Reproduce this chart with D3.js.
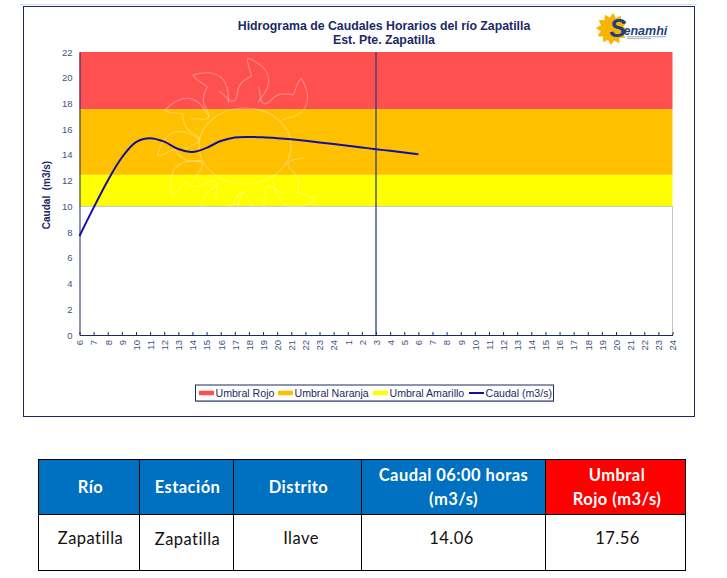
<!doctype html>
<html><head>
<meta charset="utf-8">
<script src="https://d3js.org/d3.v7.min.js"></script>
<style>
html, body { margin: 0; padding: 0; background: #fff; }
svg { display: block; }
text { font-family: "Liberation Sans", Arial, sans-serif; }
.tabla text { font-family: Lato, "Open Sans", sans-serif; letter-spacing: 0.45px; }
</style>
</head><body lang="es">
<svg id="chart" width="727" height="578"></svg>
<script>
// data
var hourLabels = ["6","7","8","9","10","11","12","13","14","15","16","17","18","19","20","21","22","23","24",
  "1","2","3","4","5","6","7","8","9","10","11","12","13","14","15","16","17","18","19","20","21","22","23","24"];
var caudal = [7.7,9.9,12.0,13.8,15.0,15.3,15.03,14.46,14.23,14.55,15.08,15.36,15.4,15.37,15.3,15.21,15.1,
  14.97,14.85,14.72,14.58,14.44,14.32,14.19,14.06];
var yTicks = [0,2,4,6,8,10,12,14,16,18,20,22];
var bandNames = ["Umbral Rojo","Umbral Naranja","Umbral Amarillo"];
var bandFrom = [17.56,12.45,10];
var bandTo = [22,17.56,12.45];
var bandColors = ["#ff5050","#ffc000","#ffff00"];
var nowIndex = 21; // vertical marker at 3
var tableHead = ["Río","Estación","Distrito",["Caudal 06:00 horas","(m3/s)"],["Umbral","Rojo (m3/s)"]];
var tableRow = ["Zapatilla","Zapatilla","Ilave","14.06","17.56"];
var tableCols = [38.5,139.5,233.5,361.5,545.5,685.5];
var headColors = ["#0070c0","#0070c0","#0070c0","#0070c0","#ff0000"];
var headCenters = [90.5,187.5,298.5,453.5,617];
var rowCenters = [90.5,187.5,301,451.5,617.5];
var sunTips = [88,50,126,156,186,214,250,282,322];

var navy = "#1b2a63", labelColor = "#3f5480";
var svg = d3.select("#chart");

// outer frame
svg.append("line").attr("x1",20).attr("x2",697).attr("y1",4.5).attr("y2",4.5).attr("stroke","#d5d9e8");
svg.append("rect").attr("x",23.5).attr("y",6.5).attr("width",671).attr("height",410)
  .attr("fill","#fff").attr("stroke",navy).attr("stroke-width",1);

var x = d3.scaleLinear().domain([0, hourLabels.length-1]).range([79.5, 672.5]);
var y = d3.scaleLinear().domain([0, 22]).range([335, 52]);

// threshold bands
svg.selectAll("rect.band").data(bandNames).enter().append("rect")
  .attr("class","band")
  .attr("x", x(0))
  .attr("width", x.range()[1]-x.range()[0])
  .attr("y", function(d,i){ return y(bandTo[i]); })
  .attr("height", function(d,i){ return y(bandFrom[i])-y(bandTo[i]); })
  .attr("fill", function(d,i){ return bandColors[i]; });

// plot edge on the white part
svg.append("path")
  .attr("d","M"+x(0)+","+y(10)+"H"+x.range()[1]+"V"+y(0))
  .attr("fill","none").attr("stroke","#c4c4c4");

// watermark sun
var wm = svg.append("g").attr("transform","translate(245,146)")
  .attr("fill","none").attr("stroke","#fff").attr("stroke-opacity",0.3).attr("stroke-width",1.2);
wm.append("ellipse").attr("rx",46).attr("ry",38);
wm.selectAll("path").data(sunTips).enter().append("path")
  .attr("transform", function(d){ return "rotate("+(90-d)+")"; })
  .attr("d","M-28,-54C-20,-50 -18,-42 -12,-45C-6,-50 -16,-60 4,-70C3,-77 -2,-82 0,-88C16,-82 25,-72 20,-58C17,-50 13,-48 12,-44");

// axes
var xAxis = d3.axisBottom(x)
  .tickValues(d3.range(hourLabels.length))
  .tickFormat(function(i){ return hourLabels[i]; })
  .tickSizeInner(-3).tickSizeOuter(0);
var gx = svg.append("g").attr("transform","translate(0,335)").call(xAxis);
gx.selectAll("text")
  .attr("transform","rotate(-90)")
  .attr("x",-5).attr("y",0).attr("dy","0.35em")
  .attr("text-anchor","end")
  .attr("font-size",9.5).attr("fill",labelColor);

var yAxis = d3.axisLeft(y).tickValues(yTicks).tickSize(0).tickPadding(7);
var gy = svg.append("g").attr("transform","translate(79.5,0)").call(yAxis);
gy.selectAll("text").attr("font-size",9.5).attr("fill",labelColor);
svg.selectAll(".domain").attr("stroke",navy);
gx.selectAll("line").attr("stroke",navy);

// marker and flow line
svg.append("line")
  .attr("x1",x(nowIndex)).attr("x2",x(nowIndex))
  .attr("y1",y(22)).attr("y2",y(0))
  .attr("stroke","#2f3f78").attr("stroke-width",1.3);

var line = d3.line()
  .x(function(d,i){ return x(i); })
  .y(function(d){ return y(d); })
  .curve(d3.curveCatmullRom);
svg.append("path").datum(caudal)
  .attr("d",line)
  .attr("fill","none").attr("stroke","#1010a8").attr("stroke-width",2);

// titles
svg.append("text").attr("x",384).attr("y",30).attr("text-anchor","middle")
  .attr("font-size",12.3).attr("font-weight","bold").attr("fill",navy)
  .text("Hidrograma de Caudales Horarios del río Zapatilla");
svg.append("text").attr("x",384).attr("y",44).attr("text-anchor","middle")
  .attr("font-size",12.3).attr("font-weight","bold").attr("fill",navy)
  .text("Est. Pte. Zapatilla");
svg.append("text").attr("transform","translate(50,195) rotate(-90)").attr("text-anchor","middle")
  .attr("font-size",10).attr("font-weight","bold").attr("fill",navy).attr("xml:space","preserve")
  .text("Caudal  (m3/s)");

// legend
svg.append("rect").attr("x",196).attr("y",386).attr("width",358).attr("height",16).attr("fill","#b8b8c0");
svg.append("rect").attr("x",195.5).attr("y",385).attr("width",358).attr("height",16)
  .attr("fill","#fff").attr("stroke",navy);
var legendX = [199,278,373,469];
var legendNames = bandNames.concat(["Caudal (m3/s)"]);
var legendColors = bandColors.concat(["#1010a8"]);
var leg = svg.selectAll("g.leg").data(legendNames).enter().append("g")
  .attr("class","leg")
  .attr("transform", function(d,i){ return "translate("+legendX[i]+",393)"; });
leg.append("line").attr("x1",0).attr("x2",15)
  .attr("stroke", function(d,i){ return legendColors[i]; })
  .attr("stroke-width", function(d,i){ return i==3 ? 2 : 4.5; });
leg.append("text").attr("x",16.5).attr("dy","0.35em")
  .attr("font-size",10.6).attr("fill",navy)
  .text(function(d){ return d; });

// logo
var logo = svg.append("g").attr("transform","translate(612,29)");
logo.selectAll("path").data(d3.range(12)).enter().append("path")
  .attr("transform", function(d){ return "rotate("+d*30+")"; })
  .attr("d","M-4,-9Q-1,-13 1,-16Q4,-12 4,-9Z").attr("fill","#f7b500");
logo.append("circle").attr("r",10).attr("fill","#f7b500");
svg.append("text").attr("x",609.5).attr("y",37).attr("font-size",25).attr("font-weight","bold")
  .attr("font-style","italic").attr("fill","#1f3f7f").text("S");
svg.append("text").attr("x",623.5).attr("y",34.5).attr("font-size",12.5).attr("font-weight","bold")
  .attr("font-style","italic").attr("fill","#1f3f7f").text("enamhi");
svg.append("line").attr("x1",627).attr("x2",666).attr("y1",36.8).attr("y2",36.8)
  .attr("stroke","#9aa3b5").attr("stroke-width",1);
svg.append("line").attr("x1",627).attr("x2",651).attr("y1",38.6).attr("y2",38.6)
  .attr("stroke","#aab1c0").attr("stroke-width",1);

// table
var tabla = svg.append("g").attr("class","tabla");
var headTop = 459.5, rowTop = 514.5, rowBottom = 570.5;
tableHead.forEach(function(h,i){
  var x0 = tableCols[i], x1 = tableCols[i+1];
  tabla.append("rect").attr("x",x0).attr("y",headTop).attr("width",x1-x0).attr("height",rowTop-headTop)
    .attr("fill",headColors[i]).attr("stroke","#000");
  tabla.append("rect").attr("x",x0).attr("y",rowTop).attr("width",x1-x0).attr("height",rowBottom-rowTop)
    .attr("fill","#fff").attr("stroke","#000");
  var lines = Array.isArray(h) ? h : [h];
  lines.forEach(function(t,j){
    tabla.append("text").attr("x",headCenters[i])
      .attr("y", lines.length==1 ? 493 : 481+j*24)
      .attr("text-anchor","middle").attr("font-size",16.5).attr("font-weight","bold")
      .attr("fill","#fff").text(t);
  });
  tabla.append("text").attr("x",rowCenters[i]).attr("y",i==1 ? 545 : 544)
    .attr("text-anchor","middle").attr("font-size",16.5).attr("fill","#111").text(tableRow[i]);
});
</script>
</body>
</html>
